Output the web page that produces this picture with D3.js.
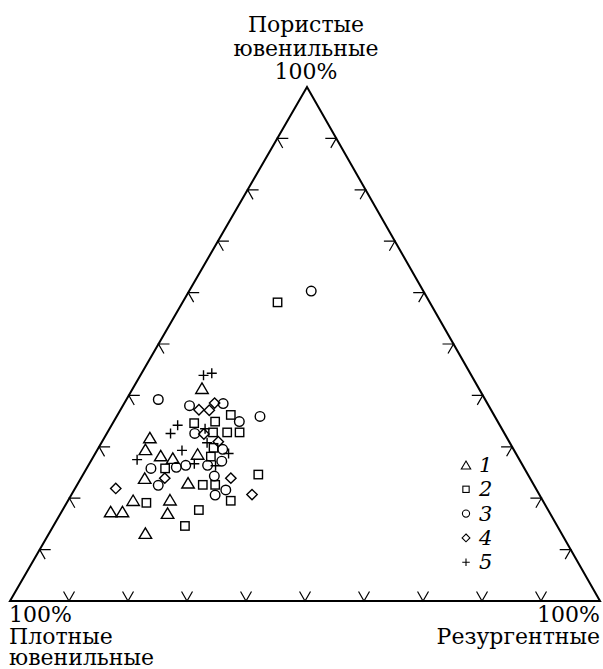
<!DOCTYPE html>
<html><head><meta charset="utf-8">
<script src="https://cdn.jsdelivr.net/npm/d3@7"></script>
<style>
html,body{margin:0;padding:0;background:#fff;}
svg{display:block;}
</style>
</head><body>
<svg id="chart" width="603" height="669"></svg>
<script>
// Vertex labels
const vertexTop = ["Пористые", "ювенильные", "100%"];
const vertexLeft = ["100%", "Плотные", "ювенильные"];
const vertexRight = ["100%", "Резургентные"];
const tickValues = [10, 20, 30, 40, 50, 60, 70, 80, 90];
const seriesLabels = ["1", "2", "3", "4", "5"];

// Data: [porous (top) %, resurgent (right) %]; dense = 100 - both
const series1 = [[41.4,11.7],[31.8,7.7],[29.5,8.1],[28.3,11.3],[27.8,13.6],[28.6,17.4],[23.9,10.8],[23.0,18.6],[19.6,11.0],[19.7,17.2],[17.4,8.3],[17.4,10.3],[17.1,18.1],[13.2,16.3]];
const series2 = [[58.1,16.1],[36.2,19.2],[34.9,17.2],[34.6,13.8],[32.8,17.9],[32.8,20.3],[32.8,22.4],[29.8,19.5],[28.1,19.9],[25.8,13.3],[22.6,21.3],[22.6,23.4],[24.6,29.7],[19.5,27.6],[19.1,13.5],[17.7,23.1],[14.6,22.3]];
const series3 = [[60.3,20.7],[39.2,5.4],[38.0,11.3],[38.4,16.8],[34.9,21.3],[35.9,24.3],[32.6,14.9],[29.5,21.2],[25.8,10.9],[26.0,15.1],[26.4,16.5],[26.4,20.2],[27.2,22.2],[24.3,22.4],[22.5,13.8],[21.6,25.7],[20.6,24.4]];
const series4 = [[37.2,13.3],[37.1,15.1],[38.5,15.3],[32.5,16.5],[31.0,19.7],[23.9,14.2],[23.9,25.4],[21.9,6.9],[20.7,30.6]];
const series5 = [[43.9,10.7],[44.3,11.9],[34.2,11.2],[32.6,10.8],[33.5,16.2],[29.3,14.4],[27.5,7.7],[30.8,17.9],[28.7,22.6],[26.7,17.8],[26.3,21.6]];

const FONT = "DejaVu Serif";
const svg = d3.select("#chart");
const A = {x: 307, y: 87}, B = {x: 10, y: 601}, C = {x: 600, y: 601};
const yScale = d3.scaleLinear().domain([0, 100]).range([B.y, A.y]);
const xScale = d3.scaleLinear().domain([0, 100]).range([B.x, C.x]);
const shift = d3.scaleLinear().domain([0, 100]).range([0, A.x - B.x]);
function pos(top, right) { return [xScale(right) + shift(top), yScale(top)]; }

svg.append("path")
  .attr("d", `M${B.x},${B.y}L${A.x},${A.y}L${C.x},${C.y}Z`)
  .attr("fill", "none").attr("stroke", "#000").attr("stroke-width", 2).attr("stroke-linejoin", "miter");

function unit(dx, dy) { const l = Math.hypot(dx, dy); return [dx / l, dy / l]; }
const dirBA = unit(A.x - B.x, A.y - B.y);
const dirCA = unit(A.x - C.x, A.y - C.y);
const dirAC = unit(C.x - A.x, C.y - A.y);
const dirAB = unit(B.x - A.x, B.y - A.y);
const L = 11;
const tg = svg.append("g").attr("stroke", "#000").attr("stroke-width", 1.2).attr("fill", "none");
function tick(p, d1, d2) {
  tg.append("path").attr("d", `M${p[0] + d1[0] * L},${p[1] + d1[1] * L}L${p[0]},${p[1]}L${p[0] + d2[0] * L},${p[1] + d2[1] * L}`);
}
tickValues.forEach(t => {
  tick(pos(0, t), dirCA, dirBA);
  tick(pos(t, 0), [1, 0], dirAC);
  tick(pos(t, 100 - t), [-1, 0], dirAB);
});

function drawMarker(g, type, x, y, s) {
  let el;
  if (type === 0) {
    const w = s * 1.25, h = s * 1.05;
    el = g.append("path").attr("d", `M${x},${y - h / 2}L${x + w / 2},${y + h / 2}L${x - w / 2},${y + h / 2}Z`);
  } else if (type === 1) {
    el = g.append("rect").attr("x", x - s * 0.42).attr("y", y - s * 0.42).attr("width", s * 0.84).attr("height", s * 0.84);
  } else if (type === 2) {
    el = g.append("circle").attr("cx", x).attr("cy", y).attr("r", s * 0.48);
  } else if (type === 3) {
    const r = s * 0.52;
    el = g.append("path").attr("d", `M${x},${y - r}L${x + r},${y}L${x},${y + r}L${x - r},${y}Z`);
  } else {
    const r = s * 0.5;
    el = g.append("path").attr("d", `M${x - r},${y}L${x + r},${y}M${x},${y - r}L${x},${y + r}`);
  }
  el.attr("fill", "none").attr("stroke", "#000");
  return el;
}
const allSeries = [series1, series2, series3, series4, series5];
const mg = svg.append("g").attr("stroke-width", 1.4);
allSeries.forEach((s, i) => {
  s.forEach(d => { const p = pos(d[0], d[1]); drawMarker(mg, i, p[0], p[1], 10); });
});

const lg = svg.append("g").attr("stroke-width", 1.1);
seriesLabels.forEach((lab, i) => {
  const y = 465 + i * 24.3;
  drawMarker(lg, i, 466, y, 7.5);
  svg.append("text").attr("x", 479).attr("y", y + 7).attr("font-family", FONT)
    .attr("font-style", "italic").attr("font-size", 21).text(lab);
});

vertexTop.forEach((t, i) => {
  svg.append("text").attr("x", 306).attr("y", 32 + i * 23.5).attr("text-anchor", "middle")
    .attr("font-family", FONT).attr("font-size", 22).text(t);
});
vertexLeft.forEach((t, i) => {
  svg.append("text").attr("x", 9).attr("y", 622 + i * 21.6).attr("text-anchor", "start")
    .attr("font-family", FONT).attr("font-size", 22).text(t);
});
vertexRight.forEach((t, i) => {
  svg.append("text").attr("x", 600).attr("y", 622 + i * 21.6).attr("text-anchor", "end")
    .attr("font-family", FONT).attr("font-size", 22).text(t);
});
</script>
</body></html>
